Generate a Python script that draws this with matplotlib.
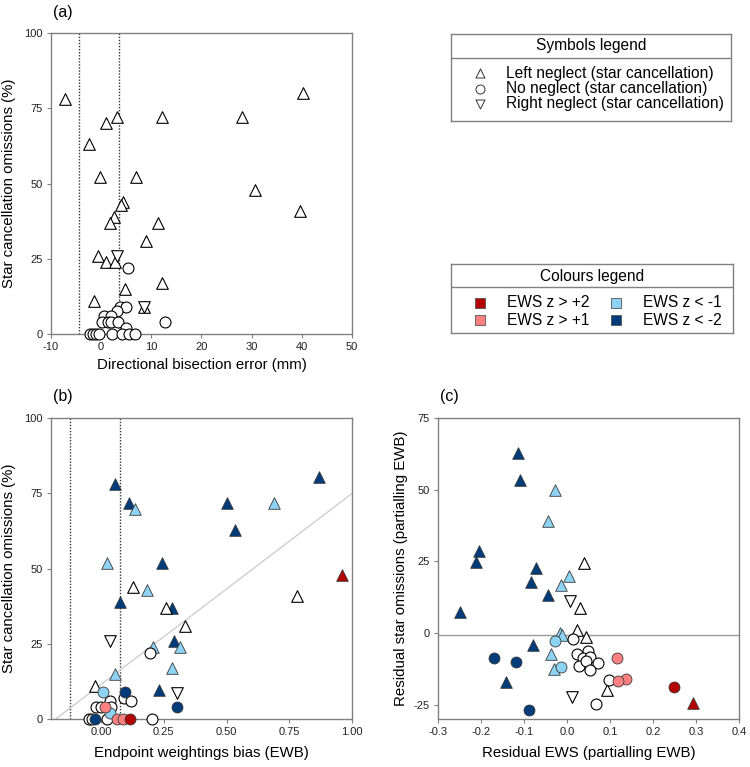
import matplotlib
matplotlib.use("Agg")
import matplotlib.pyplot as plt

plt.rcParams['font.family'] = ['Liberation Sans', 'DejaVu Sans']
plt.rcParams['axes.unicode_minus'] = False

# ---------------- data ----------------
# Panel (a): directional bisection error (mm) vs star cancellation omissions (%)
a_left_x = [-7.2, -2.4, 1.0, 3.2, 12.2, 28.1, 40.2, -0.2, 7.0, 30.7, 39.6, 4.4, 3.9, 2.6,
            1.8, 11.4, 8.9, -0.7, 1.0, 2.8, 12.1, 4.7, -1.4, 8.5]
a_left_y = [78, 63, 70, 72, 72, 72, 80, 52, 52, 48, 41, 44, 43, 39,
            37, 37, 31, 26, 24, 24, 17, 15, 11, 9]
a_none_x = [5.4, 12.8, 3.7, 4.9, 3.1, 0.6, 2.0, 0.2, 1.3, 1.9, 3.3, 4.9,
            -2.3, -1.6, -1.0, -0.5, 2.1, 4.2, 5.6, 6.7]
a_none_y = [22, 4, 9, 9, 7.5, 6, 6, 4, 4, 4, 4, 2,
            0, 0, 0, 0, 0, 0, 0, 0]
a_right_x = [3.2, 8.5]
a_right_y = [26, 9]
a_cutoffs = [-4.5, 3.5]

# Panel (b): endpoint weightings bias vs omissions; shape: L/N/R, colour: d2,d1,none,u1,u2
b_ewb = [0.055, 0.112, 0.502, 0.869, 0.532, 0.243, 0.074, 0.284, 0.291, 0.232,
         0.135, 0.691, 0.024, 0.182, 0.205, 0.314, 0.283, 0.055,
         0.125, 0.260, 0.333, 0.782, -0.026,
         0.960,
         0.036, 0.304,
         0.194, 0.093, 0.119, 0.035, -0.020, -0.002, 0.040, -0.048, 0.024, 0.202, -0.038,
         0.095, 0.304, -0.026,
         0.006, 0.035,
         0.016, 0.065, 0.086,
         0.116]
b_omis = [78, 72, 72, 80.5, 63, 52, 39, 37, 26, 9.5,
          70, 72, 52, 43, 24, 24, 17, 15,
          44, 37, 31, 41, 11,
          48,
          26, 8.7,
          22, 7, 6, 6, 4, 4, 4, 0, 0, 0, 0,
          9, 4, 0,
          9, 2,
          4, 0, 0,
          0]
b_shape = (['L'] * 24 + ['R'] * 2 + ['N'] * 20)
b_col = (['d2'] * 10 + ['d1'] * 8 + ['none'] * 5 + ['u2'] +
         ['none'] * 2 +
         ['none'] * 11 + ['d2'] * 3 + ['d1'] * 2 + ['u1'] * 3 + ['u2'])
b_cutoffs = [-0.125, 0.075]
b_fit_slope = 63.5
b_fit_intercept = 11.5

# Panel (c): residual EWS vs residual omissions
c_ews = [-0.114, -0.110, -0.205, -0.212, -0.073, -0.085, -0.044, -0.250, -0.079, -0.142,
         -0.028, -0.045, 0.005, -0.014, -0.016, -0.012, -0.038, -0.030,
         0.040, 0.030, 0.022, 0.044, 0.092,
         0.294,
         0.007, 0.012,
         0.014, 0.024, 0.049, 0.036, 0.053, 0.028, 0.045, 0.072, 0.053, 0.097, 0.066,
         -0.170, -0.119, -0.088,
         -0.028, -0.015,
         0.115, 0.137, 0.119,
         0.249]
c_res = [63, 53.3, 28.7, 24.9, 22.7, 17.8, 13.4, 7.5, -4.1, -17.1,
         50, 39, 20, 16.8, 0, -0.6, -7.2, -12.6,
         24.4, 8.7, 1.2, -1.4, -19.8,
         -24.4,
         11.3, -22.3,
         -2.1, -7.2, -6.1, -8.7, -8.4, -11.4, -9.9, -10.3, -13.0, -16.3, -24.7,
         -8.7, -10.2, -27.0,
         -2.9, -12.0,
         -8.7, -15.9, -16.9,
         -19.0]
c_shape = b_shape
c_col = b_col
c_ref_line = -0.5

# legend texts
symbol_labels = ['Left neglect (star cancellation)', 'No neglect (star cancellation)',
                 'Right neglect (star cancellation)']
colour_labels = ['EWS z > +2', 'EWS z > +1', 'EWS z < -1', 'EWS z < -2']

# ---------------- styles ----------------
COLORS = {'u2': '#B40000', 'u1': '#FF8080', 'none': 'white', 'd1': '#8ED3F3', 'd2': '#003B7A'}
MARKERS = {'L': '^', 'N': 'o', 'R': 'v'}
SIZES = {'L': 70, 'N': 62, 'R': 70}
SPINE = '#808080'
TICKFS = 8
LABFS = 10.8
LEGFS = 11.2


def style_axes(ax):
    for s in ax.spines.values():
        s.set_color(SPINE)
        s.set_linewidth(1.0)
    ax.tick_params(direction='out', length=3, width=0.8, color=SPINE,
                   labelsize=TICKFS, labelcolor='#222222', pad=3)


def draw_points(ax, xs, ys, shapes, cols):
    for x, y, sh, c in zip(xs, ys, shapes, cols):
        ec = 'black' if c == 'none' else '#3a3a3a'
        lw = 0.8 if c == 'none' else 0.6
        ax.scatter([x], [y], marker=MARKERS[sh], s=SIZES[sh], facecolor=COLORS[c],
                   edgecolor=ec, linewidth=lw, zorder=3, clip_on=False)


fig = plt.figure(figsize=(7.5, 7.67), dpi=100)

# ---- panel (a)
axa = fig.add_axes([0.068, 0.5645, 0.4013, 0.3925])
style_axes(axa)
axa.set_xlim(-10, 50)
axa.set_ylim(0, 100)
axa.set_xticks(range(-10, 51, 10))
axa.set_yticks([0, 25, 50, 75, 100])
for xv in a_cutoffs:
    axa.axvline(xv, color='#333333', linestyle=(0, (1, 1.2)), linewidth=1.0, zorder=1)
draw_points(axa, a_left_x, a_left_y, ['L'] * len(a_left_x), ['none'] * len(a_left_x))
draw_points(axa, a_none_x, a_none_y, ['N'] * len(a_none_x), ['none'] * len(a_none_x))
draw_points(axa, a_right_x, a_right_y, ['R'] * len(a_right_x), ['none'] * len(a_right_x))
axa.set_xlabel('Directional bisection error (mm)', fontsize=LABFS, labelpad=4)
axa.set_ylabel('Star cancellation omissions (%)', fontsize=LABFS, labelpad=6)

# ---- panel (b)
axb = fig.add_axes([0.068, 0.0626, 0.4013, 0.392])
style_axes(axb)
axb.set_xlim(-0.2, 1.0)
axb.set_ylim(0, 100)
axb.set_xticks([0, 0.25, 0.5, 0.75, 1.0])
axb.set_xticklabels(['0.00', '0.25', '0.50', '0.75', '1.00'])
axb.set_yticks([0, 25, 50, 75, 100])
for xv in b_cutoffs:
    axb.axvline(xv, color='#333333', linestyle=(0, (1, 1.2)), linewidth=1.0, zorder=1)
axb.axline((0, b_fit_intercept), slope=b_fit_slope, color='#cfcfcf', linewidth=1.0, zorder=1)
draw_points(axb, b_ewb, b_omis, b_shape, b_col)
axb.set_xlabel('Endpoint weightings bias (EWB)', fontsize=LABFS, labelpad=6)
axb.set_ylabel('Star cancellation omissions (%)', fontsize=LABFS, labelpad=6)

# ---- panel (c)
axc = fig.add_axes([0.5844, 0.0626, 0.4009, 0.392])
style_axes(axc)
axc.set_xlim(-0.3, 0.4)
axc.set_ylim(-30, 75)
axc.set_xticks([-0.3, -0.2, -0.1, 0.0, 0.1, 0.2, 0.3, 0.4])
axc.set_yticks([-25, 0, 25, 50, 75])
axc.axhline(c_ref_line, color='#999999', linewidth=1.0, zorder=1)
draw_points(axc, c_ews, c_res, c_shape, c_col)
axc.set_xlabel('Residual EWS (partialling EWB)', fontsize=LABFS, labelpad=6)
axc.set_ylabel('Residual star omissions (partialling EWB)', fontsize=LABFS, labelpad=4)

# panel letters
fig.text(53 / 750, 1 - 13 / 767, '(a)', fontsize=11.5, va='center', ha='left')
fig.text(53 / 750, 1 - 397 / 767, '(b)', fontsize=11.5, va='center', ha='left')
fig.text(440 / 750, 1 - 397 / 767, '(c)', fontsize=11.5, va='center', ha='left')

# ---- Symbols legend box
lg1 = fig.add_axes([451 / 750, 1 - 120.7 / 767, 280 / 750, 86.7 / 767])
lg1.set_xlim(0, 1)
lg1.set_ylim(0, 1)
lg1.set_xticks([])
lg1.set_yticks([])
for s in lg1.spines.values():
    s.set_color(SPINE)
    s.set_linewidth(1.0)
lg1.axhline(0.72, color=SPINE, linewidth=1.0)
lg1.text(0.5, 0.862, 'Symbols legend', ha='center', va='center', fontsize=LEGFS)
for lab, sh, yy in zip(symbol_labels, ['L', 'N', 'R'], [0.55, 0.371, 0.193]):
    lg1.scatter([0.104], [yy], marker=MARKERS[sh], s=42, facecolor='white',
                edgecolor='#333333', linewidth=0.7)
    lg1.text(0.195, yy, lab, ha='left', va='center', fontsize=LEGFS)

# ---- Colours legend box
lg2 = fig.add_axes([451 / 750, 1 - 333 / 767, 281.7 / 750, 69 / 767])
lg2.set_xlim(0, 1)
lg2.set_ylim(0, 1)
lg2.set_xticks([])
lg2.set_yticks([])
for s in lg2.spines.values():
    s.set_color(SPINE)
    s.set_linewidth(1.0)
lg2.axhline(0.662, color=SPINE, linewidth=1.0)
lg2.text(0.5, 0.826, 'Colours legend', ha='center', va='center', fontsize=LEGFS)
legend_cols = ['u2', 'u1', 'd1', 'd2']
legend_pos = [(0.103, 0.439), (0.103, 0.188), (0.586, 0.439), (0.586, 0.188)]
for lab, c, (mx, my) in zip(colour_labels, legend_cols, legend_pos):
    lg2.scatter([mx], [my], marker='s', s=48, facecolor=COLORS[c], edgecolor='#555555',
                linewidth=0.6)
    lg2.text(mx + 0.095, my, lab, ha='left', va='center', fontsize=LEGFS)

fig.savefig('out.png', dpi=100)
